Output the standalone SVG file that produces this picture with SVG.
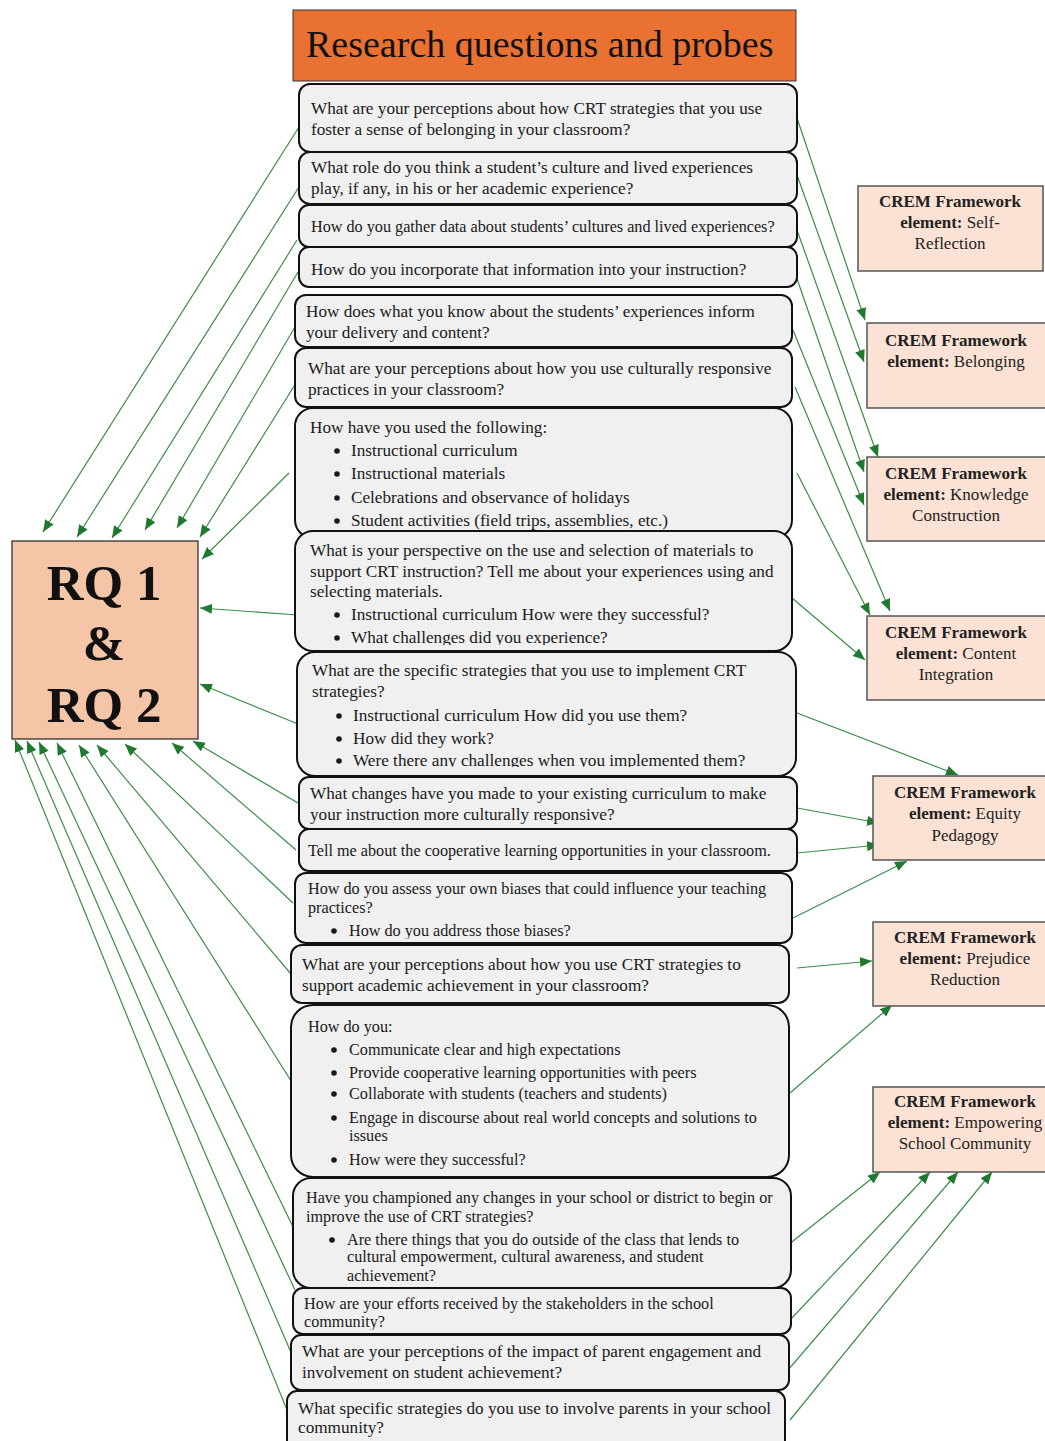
<svg xmlns="http://www.w3.org/2000/svg" width="1045" height="1441" viewBox="0 0 1045 1441">
<defs>
<marker id="ah" markerUnits="userSpaceOnUse" markerWidth="13" markerHeight="11" refX="12" refY="5" orient="auto">
<path d="M0,0 L12,5 L0,10 z" fill="#1f7a30"/>
</marker>
<clipPath id="c8"><rect x="290" y="525" width="510" height="120"/></clipPath>
<clipPath id="c9"><rect x="290" y="650" width="510" height="117"/></clipPath>
<clipPath id="c12"><rect x="290" y="870" width="510" height="69"/></clipPath>
<clipPath id="c16"><rect x="290" y="1285" width="510" height="45"/></clipPath>
</defs>
<style>
.q{fill:#f0f0f0;stroke:#111;stroke-width:2}
.t{font-family:"Liberation Serif","Times New Roman",serif;font-size:17.2px;fill:#1a1a1a}
.s{font-family:"Liberation Serif","Times New Roman",serif;font-size:16.2px;fill:#1a1a1a}
.b{fill:#1a1a1a}
.crem{fill:#fbe2d4;stroke:#555;stroke-width:1.5}
.ct{font-family:"Liberation Serif","Times New Roman",serif;font-size:17px;fill:#222;text-anchor:middle}
.bold{font-weight:bold}
.conn line{stroke:#3e8c48;stroke-width:1.2;marker-end:url(#ah)}
</style>
<rect width="1045" height="1441" fill="#ffffff"/>

<g id="connectors" class="conn">
<line x1="299" y1="127" x2="43" y2="532"/>
<line x1="299" y1="187" x2="77" y2="537"/>
<line x1="297" y1="240" x2="112" y2="538"/>
<line x1="298" y1="272" x2="145" y2="530"/>
<line x1="295" y1="327" x2="177" y2="528"/>
<line x1="296" y1="383" x2="200" y2="537"/>
<line x1="289" y1="473" x2="202" y2="559"/>
<line x1="298" y1="615" x2="200" y2="608"/>
<line x1="298" y1="724" x2="200" y2="684"/>
<line x1="298" y1="803" x2="193" y2="741"/>
<line x1="296" y1="850" x2="172" y2="743"/>
<line x1="293" y1="903" x2="125" y2="744"/>
<line x1="291" y1="974" x2="97" y2="745"/>
<line x1="293" y1="1084" x2="79" y2="745"/>
<line x1="296" y1="1233" x2="57" y2="743"/>
<line x1="295" y1="1290" x2="39" y2="742"/>
<line x1="293" y1="1357" x2="27" y2="741"/>
<line x1="287" y1="1410" x2="15" y2="740"/>
<line x1="797" y1="118" x2="865" y2="320"/>
<line x1="797" y1="175" x2="864" y2="362"/>
<line x1="797" y1="230" x2="878" y2="457"/>
<line x1="795" y1="273" x2="864" y2="472"/>
<line x1="793" y1="330" x2="864" y2="505"/>
<line x1="795" y1="387" x2="890" y2="611"/>
<line x1="797" y1="473" x2="870" y2="615"/>
<line x1="792" y1="598" x2="865" y2="660"/>
<line x1="797" y1="713" x2="958" y2="775"/>
<line x1="797" y1="808" x2="879" y2="823"/>
<line x1="797" y1="853" x2="879" y2="845"/>
<line x1="793" y1="918" x2="907" y2="861"/>
<line x1="797" y1="968" x2="872" y2="961"/>
<line x1="790" y1="1093" x2="892" y2="1005"/>
<line x1="788" y1="1245" x2="880" y2="1172"/>
<line x1="790" y1="1320" x2="930" y2="1172"/>
<line x1="788" y1="1370" x2="958" y2="1172"/>
<line x1="790" y1="1420" x2="992" y2="1172"/>
</g>

<g id="header">
<rect x="293" y="10" width="503" height="71" fill="#e97132" stroke="#333" stroke-width="1"/>
<text x="306" y="57" font-family="'Liberation Serif','Times New Roman',serif" font-size="38" fill="#111">Research questions and probes</text>
</g>

<g id="rq">
<rect x="12" y="541" width="186" height="198" fill="#f5c5a8" stroke="#222" stroke-width="1.2"/>
<g font-family="'Liberation Serif','Times New Roman',serif" font-size="51" font-weight="bold" fill="#111" text-anchor="middle">
<text x="104" y="600">RQ 1</text>
<text x="104" y="660">&amp;</text>
<text x="104" y="722">RQ 2</text>
</g>
</g>

<g id="q1"><rect class="q" x="299" y="84" width="498" height="68" rx="11"/>
<text class="t" x="311" y="114">What are your perceptions about how CRT strategies that you use</text>
<text class="t" x="311" y="135">foster a sense of belonging in your classroom?</text></g>

<g id="q2"><rect class="q" x="299" y="152" width="498" height="52" rx="11"/>
<text class="t" x="311" y="173">What role do you think a student’s culture and lived experiences</text>
<text class="t" x="311" y="194">play, if any, in his or her academic experience?</text></g>

<g id="q3"><rect class="q" x="299" y="205" width="498" height="42" rx="10"/>
<text class="s" x="311" y="232">How do you gather data about students’ cultures and lived experiences?</text></g>

<g id="q4"><rect class="q" x="299" y="247" width="498" height="40" rx="10"/>
<text class="t" x="311" y="275">How do you incorporate that information into your instruction?</text></g>

<g id="q5"><rect class="q" x="295" y="295" width="497" height="52" rx="11"/>
<text class="t" x="306" y="317">How does what you know about the students’ experiences inform</text>
<text class="t" x="306" y="338">your delivery and content?</text></g>

<g id="q6"><rect class="q" x="295" y="348" width="497" height="59" rx="11"/>
<text class="t" x="308" y="374">What are your perceptions about how you use culturally responsive</text>
<text class="t" x="308" y="395">practices in your classroom?</text></g>

<g id="q7"><rect class="q" x="295" y="408" width="497" height="130" rx="18"/>
<text class="t" x="310" y="433">How have you used the following:</text>
<circle class="b" cx="337" cy="451" r="2.8"/><text class="t" x="351" y="456">Instructional curriculum</text>
<circle class="b" cx="337" cy="474" r="2.8"/><text class="t" x="351" y="479">Instructional materials</text>
<circle class="b" cx="337" cy="498" r="2.8"/><text class="t" x="351" y="503">Celebrations and observance of holidays</text>
<circle class="b" cx="337" cy="521" r="2.8"/><text class="t" x="351" y="526">Student activities (field trips, assemblies, etc.)</text></g>

<g id="q8"><rect class="q" x="295" y="531" width="497" height="120" rx="18"/>
<g clip-path="url(#c8)">
<text class="t" x="310" y="556">What is your perspective on the use and selection of materials to</text>
<text class="t" x="310" y="577">support CRT instruction? Tell me about your experiences using and</text>
<text class="t" x="310" y="597">selecting materials.</text>
<circle class="b" cx="337" cy="615" r="2.8"/><text class="t" x="351" y="620">Instructional curriculum How were they successful?</text>
<circle class="b" cx="337" cy="638" r="2.8"/><text class="t" x="351" y="643">What challenges did you experience?</text></g></g>

<g id="q9"><rect class="q" x="297" y="652" width="499" height="124" rx="18"/>
<g clip-path="url(#c9)">
<text class="t" x="312" y="676">What are the specific strategies that you use to implement CRT</text>
<text class="t" x="312" y="697">strategies?</text>
<circle class="b" cx="339" cy="716" r="2.8"/><text class="t" x="353" y="721">Instructional curriculum How did you use them?</text>
<circle class="b" cx="339" cy="739" r="2.8"/><text class="t" x="353" y="744">How did they work?</text>
<circle class="b" cx="339" cy="761" r="2.8"/><text class="t" x="353" y="766">Were there any challenges when you implemented them?</text></g></g>

<g id="q10"><rect class="q" x="299" y="777" width="498" height="52" rx="10"/>
<text class="t" x="310" y="799">What changes have you made to your existing curriculum to make</text>
<text class="t" x="310" y="820">your instruction more culturally responsive?</text></g>

<g id="q11"><rect class="q" x="299" y="829" width="498" height="42" rx="10"/>
<text class="s" x="308" y="856">Tell me about the cooperative learning opportunities in your classroom.</text></g>

<g id="q12"><rect class="q" x="295" y="873" width="497" height="70" rx="11"/>
<g clip-path="url(#c12)">
<text class="s" x="308" y="894">How do you assess your own biases that could influence your teaching</text>
<text class="s" x="308" y="913">practices?</text>
<circle class="b" cx="334" cy="931" r="2.8"/><text class="s" x="349" y="936">How do you address those biases?</text></g></g>

<g id="q13"><rect class="q" x="291" y="945" width="498" height="58" rx="11"/>
<text class="t" x="302" y="970">What are your perceptions about how you use CRT strategies to</text>
<text class="t" x="302" y="991">support academic achievement in your classroom?</text></g>

<g id="q14"><rect class="q" x="291" y="1005" width="498" height="172" rx="22"/>
<text class="s" x="308" y="1032">How do you:</text>
<circle class="b" cx="334" cy="1050" r="2.8"/><text class="s" x="349" y="1055">Communicate clear and high expectations</text>
<circle class="b" cx="334" cy="1073" r="2.8"/><text class="s" x="349" y="1078">Provide cooperative learning opportunities with peers</text>
<circle class="b" cx="334" cy="1094" r="2.8"/><text class="s" x="349" y="1099">Collaborate with students (teachers and students)</text>
<circle class="b" cx="334" cy="1118" r="2.8"/><text class="s" x="349" y="1123">Engage in discourse about real world concepts and solutions to</text>
<text class="s" x="349" y="1141">issues</text>
<circle class="b" cx="334" cy="1160" r="2.8"/><text class="s" x="349" y="1165">How were they successful?</text></g>

<g id="q15"><rect class="q" x="293" y="1178" width="498" height="110" rx="18"/>
<text class="s" x="306" y="1203">Have you championed any changes in your school or district to begin or</text>
<text class="s" x="306" y="1222">improve the use of CRT strategies?</text>
<circle class="b" cx="332" cy="1240" r="2.8"/><text class="s" x="347" y="1245">Are there things that you do outside of the class that lends to</text>
<text class="s" x="347" y="1262">cultural empowerment, cultural awareness, and student</text>
<text class="s" x="347" y="1281">achievement?</text></g>

<g id="q16"><rect class="q" x="293" y="1288" width="498" height="46" rx="10"/>
<g clip-path="url(#c16)">
<text class="s" x="304" y="1309">How are your efforts received by the stakeholders in the school</text>
<text class="s" x="304" y="1327">community?</text></g></g>

<g id="q17"><rect class="q" x="291" y="1335" width="498" height="55" rx="10"/>
<text class="t" x="302" y="1357">What are your perceptions of the impact of parent engagement and</text>
<text class="t" x="302" y="1378">involvement on student achievement?</text></g>

<g id="q18"><rect class="q" x="287" y="1391" width="498" height="62" rx="10"/>
<text class="t" x="298" y="1414">What specific strategies do you use to involve parents in your school</text>
<text class="t" x="298" y="1433">community?</text></g>

<g id="crem1"><rect class="crem" x="858" y="186" width="185" height="85"/>
<text class="ct bold" x="950" y="207">CREM Framework</text>
<text class="ct" x="950" y="228"><tspan class="bold">element:</tspan> Self-</text>
<text class="ct" x="950" y="249">Reflection</text></g>

<g id="crem2"><rect class="crem" x="867" y="323" width="185" height="85"/>
<text class="ct bold" x="956" y="346">CREM Framework</text>
<text class="ct" x="956" y="367"><tspan class="bold">element:</tspan> Belonging</text></g>

<g id="crem3"><rect class="crem" x="867" y="457" width="185" height="84"/>
<text class="ct bold" x="956" y="479">CREM Framework</text>
<text class="ct" x="956" y="500"><tspan class="bold">element:</tspan> Knowledge</text>
<text class="ct" x="956" y="521">Construction</text></g>

<g id="crem4"><rect class="crem" x="867" y="616" width="185" height="84"/>
<text class="ct bold" x="956" y="638">CREM Framework</text>
<text class="ct" x="956" y="659"><tspan class="bold">element:</tspan> Content</text>
<text class="ct" x="956" y="680">Integration</text></g>

<g id="crem5"><rect class="crem" x="873" y="776" width="190" height="84"/>
<text class="ct bold" x="965" y="798">CREM Framework</text>
<text class="ct" x="965" y="819"><tspan class="bold">element:</tspan> Equity</text>
<text class="ct" x="965" y="841">Pedagogy</text></g>

<g id="crem6"><rect class="crem" x="873" y="922" width="190" height="84"/>
<text class="ct bold" x="965" y="943">CREM Framework</text>
<text class="ct" x="965" y="964"><tspan class="bold">element:</tspan> Prejudice</text>
<text class="ct" x="965" y="985">Reduction</text></g>

<g id="crem7"><rect class="crem" x="873" y="1087" width="190" height="85"/>
<text class="ct bold" x="965" y="1107">CREM Framework</text>
<text class="ct" x="965" y="1128"><tspan class="bold">element:</tspan> Empowering</text>
<text class="ct" x="965" y="1149">School Community</text></g>
</svg>
